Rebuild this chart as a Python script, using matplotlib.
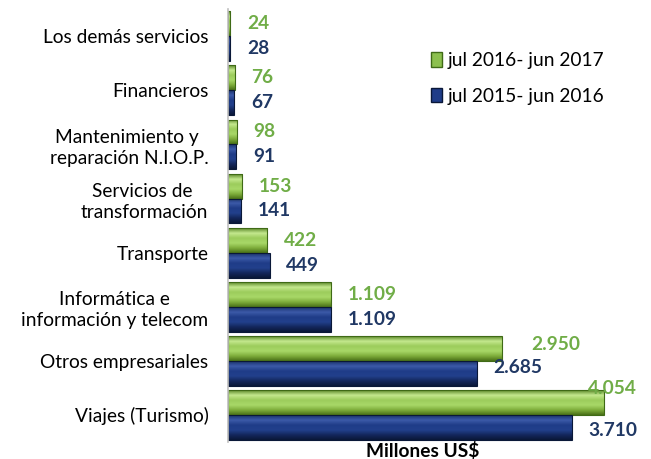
import numpy as np
import matplotlib.pyplot as plt
from matplotlib.colors import LinearSegmentedColormap
from matplotlib.patches import Patch

categorias = ['Los demás servicios', 'Financieros', 'Mantenimiento y \nreparación N.I.O.P.',
              'Servicios de \ntransformación', 'Transporte', 'Informática e\ninformación y telecom',
              'Otros empresariales', 'Viajes (Turismo)']
v_2017 = [24, 76, 98, 153, 422, 1109, 2950, 4054]
v_2016 = [28, 67, 91, 141, 449, 1109, 2685, 3710]
lab_2017 = ['24', '76', '98', '153', '422', '1.109', '2.950', '4.054']
lab_2016 = ['28', '67', '91', '141', '449', '1.109', '2.685', '3.710']
serie_2017 = 'jul 2016- jun 2017'
serie_2016 = 'jul 2015- jun 2016'

verde = '#70AD47'
azul = '#203864'
cm_verde = LinearSegmentedColormap.from_list('v', ['#5d8a2a', '#c4e88e', '#9ccc5c', '#a8d868', '#7fae3c', '#4a7018'])
cm_azul = LinearSegmentedColormap.from_list('a', ['#1a3270', '#3c5aa8', '#1f3c88', '#22408c', '#14275c', '#0a1838'])

plt.rcParams['font.family'] = ['Lato', 'DejaVu Sans']
fs = 13.8

fig = plt.figure(figsize=(6.51, 4.59), dpi=100)
ax = fig.add_axes([0.350, 0.037, 0.65, 0.943])

y = np.arange(len(categorias))
h = 0.46
grad = np.linspace(0, 1, 64).reshape(-1, 1)


def barras(vals, pos, cmap, borde):
    bars = ax.barh(pos, vals, height=h, color='none', edgecolor=borde, linewidth=0.8)
    for b in bars:
        x0, y0 = b.get_x(), b.get_y()
        im = ax.imshow(grad, cmap=cmap, aspect='auto',
                       extent=[x0, x0 + b.get_width(), y0 + b.get_height(), y0],
                       zorder=1)
        im.set_clip_path(b)
        b.set_zorder(2)
    return bars


barras(v_2017, y - h / 2, cm_verde, '#3f6a16')
barras(v_2016, y + h / 2, cm_azul, '#0a1838')

dx_2017 = [180, 180, 180, 180, 180, 180, 320, -170]
dy_2017 = [0, 0, 0, 0, 0, 0, -0.08, -0.25]
dx_2016 = [180, 180, 180, 180, 180, 180, 180, 180]
dy_2016 = [0, 0, 0, 0, 0, 0, -0.1, 0.05]
for i in range(len(categorias)):
    ax.text(v_2017[i] + dx_2017[i], y[i] - h / 2 + dy_2017[i], lab_2017[i], color=verde,
            fontsize=fs, fontweight='bold', va='center', ha='left')
    ax.text(v_2016[i] + dx_2016[i], y[i] + h / 2 + dy_2016[i], lab_2016[i], color=azul,
            fontsize=fs, fontweight='bold', va='center', ha='left')

ax.set_xlim(0, 4560)
ax.set_ylim(7.5, -0.5)
ax.set_yticks(y)
ax.set_yticklabels(categorias, fontsize=fs, multialignment='center', linespacing=1.3)
ax.tick_params(axis='y', length=0, pad=14)
ax.set_xticks([])
for s in ['top', 'right', 'bottom']:
    ax.spines[s].set_visible(False)
ax.spines['left'].set_color('#bfbfbf')
ax.spines['left'].set_linewidth(1.2)

h1 = Patch(facecolor='#8cc04e', edgecolor='#3f6a16')
h2 = Patch(facecolor='#1f3c88', edgecolor='#0a1838')
ax.legend([h1, h2], [serie_2017, serie_2016], loc='upper left', bbox_to_anchor=(0.44, 0.94),
          frameon=False, fontsize=fs, handlelength=0.55, handleheight=0.8, handletextpad=0.3,
          labelspacing=0.95)

fig.text(0.649, 0.018, 'Millones US$', fontsize=fs, fontweight='bold', ha='center', va='center')

fig.savefig('out.png', dpi=100)
